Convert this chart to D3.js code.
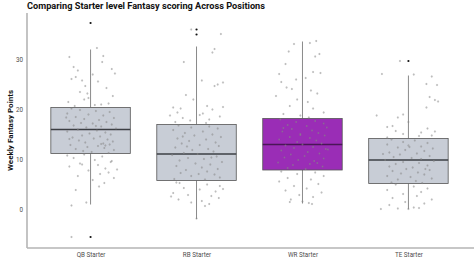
<!DOCTYPE html>
<html>
<head>
<meta charset="utf-8">
<script src="https://cdn.jsdelivr.net/npm/d3@7"></script>
<style>
  body { margin: 0; background: #fff; }
  text { font-family: Roboto, "Liberation Sans", sans-serif; }
</style>
</head>
<body>
<div id="chart"></div>
<script>
// categories and box stats
const positions = ["QB Starter", "RB Starter", "WR Starter", "TE Starter"];
const q1 = [11.1, 5.7, 7.8, 5.1];
const medians = [15.9, 11.0, 12.9, 9.8];
const q3 = [20.3, 16.9, 18.1, 14.1];
const whiskerLo = [0.9, -2.0, 1.1, 0.0];
const whiskerHi = [31.9, 32.5, 33.5, 26.7];
const outliers = [[37.2, -5.6], [35.9, 34.9], [], [29.6]];
const yTicks = [0, 10, 20, 30];

// jittered weekly points: [x offset (in category steps), points]
const qbPoints = [
  [0.06,32.2],[0.12,30.6],[-0.2,30.4],[-0.16,28.4],[-0.12,27.7],[0.11,29.4],[0.2,28.0],[-0.18,26.0],[-0.08,25.7],[-0.14,26.4],
  [0.02,26.9],[0.07,25.5],[-0.05,24.6],[-0.1,23.4],[-0.03,23.1],[0.15,24.2],[0.21,22.6],[-0.21,21.4],[-0.06,21.9],[0.17,21.1],
  [0.04,20.8],[-0.15,20.6],[0.1,20.9],[-0.02,22.2],[0.23,27.1],
  [-0.18,20.1],[-0.1,19.8],[0.05,19.6],[0.18,19.4],[-0.22,19.1],[-0.02,18.9],[0.12,18.7],[-0.14,18.4],[0.22,18.2],[-0.06,18.0],
  [0.08,17.8],[-0.2,17.6],[0.15,17.4],[-0.09,17.2],[0.02,17.1],[0.2,16.9],[-0.16,16.7],[0.1,16.5],[-0.04,16.3],[0.24,16.1],
  [-0.12,15.9],[0.06,15.7],[-0.22,15.5],[0.14,15.3],[-0.01,15.1],[0.19,14.9],[-0.08,14.7],[0.09,14.5],[-0.17,14.3],[0.03,14.1],
  [0.16,13.9],[-0.11,13.7],[0.21,13.5],[-0.05,13.3],[0.12,13.1],[0.18,12.9],[-0.19,12.8],[0.07,12.6],[-0.03,12.4],[0.13,12.2],
  [-0.14,12.0],[0.22,11.8],[-0.07,11.6],[0.01,11.4],[0.17,11.2],[0.1,13.0],[0.14,12.7],[-0.2,14.0],[0.05,16.6],[-0.23,18.3],
  [-0.06,10.9],[0.11,10.5],[-0.16,10.2],[0.04,9.8],[0.19,9.4],[-0.1,9.1],[0.07,8.8],[-0.2,8.5],[0.14,8.1],[-0.02,7.7],
  [0.17,7.3],[0.09,7.0],[-0.12,6.6],[0.22,6.2],[0.02,5.8],[0.13,5.2],[0.08,4.5],[-0.14,3.8],[-0.04,1.3],[-0.18,0.7],
  [-0.18,-5.6],[0.2,9.6],[-0.08,8.9],[0.25,7.9],[-0.22,10.7]
];
const rbPoints = [
  [-0.05,35.9],[0.23,35.0],[0.17,32.0],[0.15,31.3],[-0.12,29.4],[0.05,25.7],[0.2,24.9],[0.25,25.3],[0.17,24.6],[-0.1,22.8],
  [-0.22,20.3],[-0.03,21.9],[-0.15,20.1],[0.1,20.6],[0.25,20.4],[-0.18,19.3],[0.06,19.1],[0.15,19.9],[-0.13,18.2],[0.22,18.5],
  [-0.06,17.7],[-0.2,17.4],[0.12,17.9],[0.03,18.8],[-0.25,18.7],[0.09,17.2],
  [-0.17,16.7],[0.12,16.5],[-0.05,16.3],[0.2,16.1],[-0.22,15.8],[0.06,15.5],[-0.11,15.2],[0.15,14.9],[-0.02,14.7],[0.23,14.4],
  [-0.18,14.1],[0.09,13.9],[-0.07,13.6],[0.18,13.3],[-0.14,13.1],[0.03,12.8],[0.21,12.6],[-0.2,12.3],[0.11,12.0],[-0.04,11.8],
  [0.16,11.5],[-0.12,11.2],[0.01,11.0],[-0.23,10.8],[0.19,10.5],[-0.08,10.2],[0.07,10.0],[-0.16,9.7],[0.24,9.4],[-0.01,9.1],
  [0.13,8.9],[-0.19,8.6],[0.05,8.3],[0.2,8.0],[-0.1,7.8],[0.1,7.5],[-0.15,7.2],[0.17,6.9],[-0.05,6.6],[0.22,6.3],
  [-0.21,6.0],[0.08,5.9],[-0.09,12.5],[0.14,10.3],[-0.13,14.5],[0.02,7.0],
  [-0.19,5.3],[-0.16,5.2],[0.1,4.9],[0.22,4.6],[-0.12,4.2],[0.03,3.9],[0.18,3.5],[-0.22,3.2],[-0.08,2.8],[0.14,2.6],
  [0.21,2.2],[-0.17,1.9],[0.05,1.6],[-0.05,1.3],[0.12,1.0],[0.25,4.0],[-0.24,2.5],[0.08,0.6],[0.0,-1.9]
];
const wrPoints = [
  [-0.08,33.0],[0.07,33.2],[0.13,33.6],[-0.13,31.5],[0.12,30.5],[0.16,31.0],[-0.16,29.0],[-0.22,27.0],[0.1,27.4],[0.17,27.2],
  [-0.2,25.4],[-0.06,25.9],[0.03,26.2],[-0.15,24.3],[-0.1,24.0],[0.08,23.7],[-0.25,22.6],[0.14,23.1],[-0.05,21.9],[0.05,21.4],
  [-0.12,20.6],[0.1,20.1],[0.2,19.3],[-0.18,19.0],[-0.02,18.7],[0.06,18.3],
  [-0.21,17.9],[0.12,17.6],[-0.06,17.4],[0.2,17.1],[-0.14,16.8],[0.04,16.6],[0.23,16.3],[-0.1,16.0],[0.09,15.7],[-0.19,15.5],
  [0.15,15.2],[-0.02,15.0],[0.21,14.7],[-0.12,14.4],[0.07,14.2],[-0.22,13.9],[0.13,13.7],[-0.05,13.4],[0.18,13.1],[0.0,12.9],
  [-0.16,12.7],[0.1,12.4],[-0.08,12.2],[0.24,11.9],[-0.2,11.7],[0.05,11.4],[0.16,11.1],[-0.11,10.9],[0.02,10.6],[-0.17,10.3],
  [0.2,10.1],[-0.04,9.8],[0.11,9.6],[-0.23,9.3],[0.07,9.0],[-0.09,8.8],[0.19,8.5],[-0.14,8.2],[0.03,8.0],[0.14,9.2],
  [-0.02,14.8],[-0.18,16.2],[0.22,12.0],
  [-0.2,7.5],[0.12,7.3],[-0.05,7.0],[0.2,6.6],[-0.14,6.2],[0.08,5.9],[-0.22,5.5],[0.15,5.0],[-0.08,4.6],[0.04,4.1],
  [-0.16,3.7],[0.18,3.3],[-0.03,2.8],[0.1,2.4],[-0.11,1.9],[0.0,1.5],[0.06,1.2],[-0.12,1.4],[0.09,1.0]
];
const tePoints = [
  [-0.08,29.6],[-0.25,27.0],[0.22,26.5],[0.05,26.9],[0.27,24.8],[0.17,25.0],[0.2,22.4],[0.25,21.8],[0.28,21.5],[0.17,20.3],
  [-0.3,18.7],[-0.05,18.9],[-0.1,18.3],[0.0,17.4],[-0.15,16.6],[-0.2,16.4],[0.18,16.1],[-0.12,15.6],[0.12,15.3],[-0.05,15.0],
  [0.25,15.5],[0.1,14.6],[-0.2,14.3],[0.22,14.7],
  [-0.16,13.9],[0.06,13.7],[-0.05,13.4],[0.18,13.2],[-0.2,12.9],[0.0,12.7],[0.12,12.5],[-0.1,12.3],[0.23,12.1],[-0.03,11.8],
  [0.15,11.6],[-0.18,11.3],[0.08,11.1],[-0.08,10.9],[0.2,10.6],[-0.14,10.4],[0.03,10.2],[0.12,10.0],[-0.22,9.8],[0.24,9.6],
  [-0.05,9.4],[0.1,9.2],[-0.12,9.0],[0.18,8.7],[-0.18,8.5],[0.04,8.3],[-0.02,8.0],[0.2,7.8],[-0.15,7.6],[0.09,7.3],
  [-0.07,7.1],[0.15,6.9],[-0.2,6.6],[0.02,6.4],[0.22,6.1],[-0.1,5.9],[0.07,5.6],[-0.16,5.3],[0.13,5.2],[-0.24,11.0],
  [0.01,12.4],[0.16,8.0],
  [-0.12,4.9],[0.05,4.5],[0.18,4.1],[-0.2,3.8],[0.12,3.4],[-0.05,3.0],[0.08,2.6],[-0.15,2.2],[0.22,1.9],[-0.03,1.4],
  [0.15,1.1],[-0.18,0.8],[0.05,0.3],[0.0,0.0],[-0.1,0.1],[0.1,0.2],[-0.26,0.0]
];
const allPoints = [qbPoints, rbPoints, wrPoints, tePoints];
const boxFills = ["#c8cdd6", "#c8cdd6", "#9a2db6", "#c8cdd6"];

const width = 474, height = 266;
const mLeft = 27, mRight = 472, mTop = 13, mBottom = 248;

const svg = d3.select("#chart").append("svg")
  .attr("width", width)
  .attr("height", height);

const x = d3.scalePoint().domain(positions).range([mLeft, mRight]).padding(0.6);
const y = d3.scaleLinear().domain([-7.8, 39.2]).range([mBottom, mTop]);
const boxW = x.step() * 0.75;

// title
svg.append("text")
  .attr("x", mLeft).attr("y", 9)
  .attr("font-size", 9.2).attr("font-weight", "bold").attr("fill", "#111")
  .text("Comparing Starter level Fantasy scoring Across Positions");

// y axis title
svg.append("text")
  .attr("transform", `translate(13,${(mTop + mBottom) / 2}) rotate(-90)`)
  .attr("text-anchor", "middle")
  .attr("font-size", 8).attr("font-weight", "bold").attr("fill", "#111")
  .text("Weekly Fantasy Points");

// boxes
const g = svg.append("g");
positions.forEach((p, i) => {
  const cx = x(p);
  g.append("line")
    .attr("x1", cx).attr("x2", cx)
    .attr("y1", y(q3[i])).attr("y2", y(whiskerHi[i]))
    .attr("stroke", "#8a8a8a").attr("stroke-width", 1);
  g.append("line")
    .attr("x1", cx).attr("x2", cx)
    .attr("y1", y(q1[i])).attr("y2", y(whiskerLo[i]))
    .attr("stroke", "#8a8a8a").attr("stroke-width", 1);
  g.append("rect")
    .attr("x", cx - boxW / 2).attr("width", boxW)
    .attr("y", y(q3[i])).attr("height", y(q1[i]) - y(q3[i]))
    .attr("fill", boxFills[i])
    .attr("stroke", "#555").attr("stroke-width", 0.8);
  g.append("line")
    .attr("x1", cx - boxW / 2).attr("x2", cx + boxW / 2)
    .attr("y1", y(medians[i])).attr("y2", y(medians[i]))
    .attr("stroke", i === 2 ? "#4a1657" : "#3c3f44").attr("stroke-width", 1.4);
  g.selectAll(null).data(outliers[i]).enter().append("circle")
    .attr("cx", cx).attr("cy", d => y(d))
    .attr("r", 1.1).attr("fill", "#111");
});

// jittered points
positions.forEach((p, i) => {
  svg.append("g").selectAll("circle")
    .data(allPoints[i]).enter().append("circle")
    .attr("cx", d => x(p) + d[0] * x.step())
    .attr("cy", d => y(d[1]))
    .attr("r", 0.9)
    .attr("fill", "#8c8c8c").attr("fill-opacity", 0.55)
    .attr("stroke", "#777").attr("stroke-opacity", 0.3).attr("stroke-width", 0.3);
});

// axes
const yAxis = svg.append("g")
  .attr("transform", `translate(${mLeft},0)`)
  .call(d3.axisLeft(y).tickValues(yTicks).tickSize(0).tickPadding(4));
const xAxis = svg.append("g")
  .attr("transform", `translate(0,${mBottom})`)
  .call(d3.axisBottom(x).tickSize(0).tickPadding(5));
[yAxis, xAxis].forEach(a => {
  a.select(".domain").attr("stroke", "#b5b5b5").attr("stroke-width", 1.6);
  a.selectAll("text").attr("fill", "#4d4d4d").attr("font-size", 6.3)
    .attr("font-family", "Roboto, sans-serif");
});
xAxis.select(".domain").attr("d", `M${mLeft},0H${width}`);
yAxis.select(".domain").attr("d", `M0,${mTop}V${mBottom}`);
</script>
</body>
</html>
